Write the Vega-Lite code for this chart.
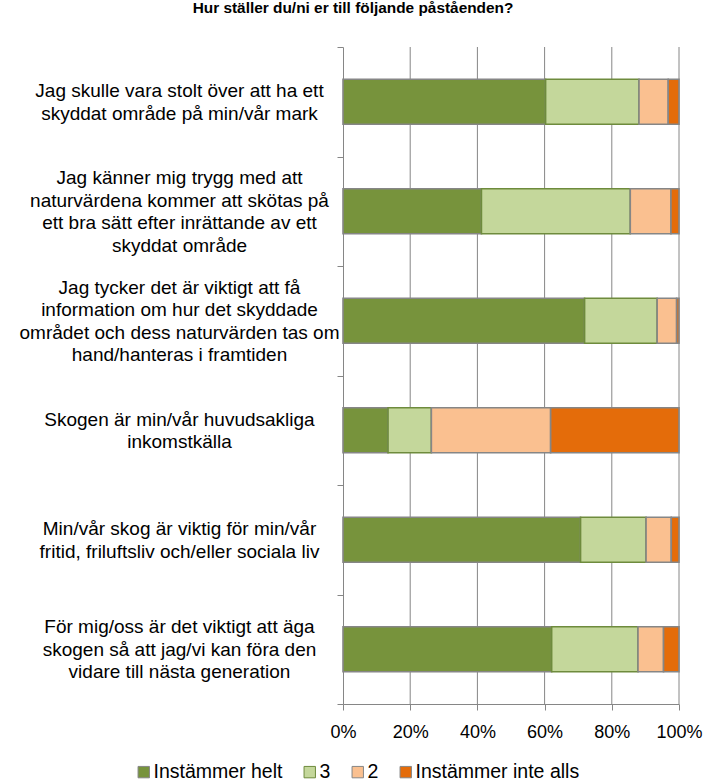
{
  "$schema": "https://vega.github.io/schema/vega-lite/v6.json",
  "width": 336,
  "height": 657,
  "autosize": {"type": "none"},
  "padding": {"left": 343, "top": 47, "right": 27, "bottom": 78},
  "background": "white",
  "title": {
    "text": "Hur ställer du/ni er till följande påståenden?",
    "font": "Liberation Sans",
    "fontSize": 15.4,
    "fontWeight": "bold",
    "color": "#000000",
    "anchor": "middle",
    "dx": -158,
    "offset": 22
  },
  "config": {
    "view": {"stroke": null},
    "font": "Liberation Sans"
  },
  "layer": [
    {
      "data": {"values": [{"g": 0.2}, {"g": 0.4}, {"g": 0.6}, {"g": 0.8}, {"g": 1.0}]},
      "mark": {"type": "rule", "color": "#868686", "strokeWidth": 1},
      "encoding": {
        "x": {"field": "g", "type": "quantitative"}
      }
    },
    {
      "data": {
        "values": [
          {"q": "Jag skulle vara stolt över att ha ett|skyddat område på min/vår mark", "cat": "Instämmer helt", "o": 1, "v": 60.3},
          {"q": "Jag skulle vara stolt över att ha ett|skyddat område på min/vår mark", "cat": "3", "o": 2, "v": 27.8},
          {"q": "Jag skulle vara stolt över att ha ett|skyddat område på min/vår mark", "cat": "2", "o": 3, "v": 8.7},
          {"q": "Jag skulle vara stolt över att ha ett|skyddat område på min/vår mark", "cat": "Instämmer inte alls", "o": 4, "v": 3.2},
          {"q": "Jag känner mig trygg med att|naturvärdena kommer att skötas på|ett bra sätt efter inrättande av ett|skyddat område", "cat": "Instämmer helt", "o": 1, "v": 41.2},
          {"q": "Jag känner mig trygg med att|naturvärdena kommer att skötas på|ett bra sätt efter inrättande av ett|skyddat område", "cat": "3", "o": 2, "v": 44.3},
          {"q": "Jag känner mig trygg med att|naturvärdena kommer att skötas på|ett bra sätt efter inrättande av ett|skyddat område", "cat": "2", "o": 3, "v": 12.1},
          {"q": "Jag känner mig trygg med att|naturvärdena kommer att skötas på|ett bra sätt efter inrättande av ett|skyddat område", "cat": "Instämmer inte alls", "o": 4, "v": 2.4},
          {"q": "Jag tycker det är viktigt att få|information om hur det skyddade|området och dess naturvärden tas om|hand/hanteras i framtiden", "cat": "Instämmer helt", "o": 1, "v": 71.9},
          {"q": "Jag tycker det är viktigt att få|information om hur det skyddade|området och dess naturvärden tas om|hand/hanteras i framtiden", "cat": "3", "o": 2, "v": 21.6},
          {"q": "Jag tycker det är viktigt att få|information om hur det skyddade|området och dess naturvärden tas om|hand/hanteras i framtiden", "cat": "2", "o": 3, "v": 5.8},
          {"q": "Jag tycker det är viktigt att få|information om hur det skyddade|området och dess naturvärden tas om|hand/hanteras i framtiden", "cat": "Instämmer inte alls", "o": 4, "v": 0.7},
          {"q": "Skogen är min/vår huvudsakliga|inkomstkälla", "cat": "Instämmer helt", "o": 1, "v": 13.4},
          {"q": "Skogen är min/vår huvudsakliga|inkomstkälla", "cat": "3", "o": 2, "v": 12.9},
          {"q": "Skogen är min/vår huvudsakliga|inkomstkälla", "cat": "2", "o": 3, "v": 35.5},
          {"q": "Skogen är min/vår huvudsakliga|inkomstkälla", "cat": "Instämmer inte alls", "o": 4, "v": 38.2},
          {"q": "Min/vår skog är viktig för min/vår|fritid, friluftsliv och/eller sociala liv", "cat": "Instämmer helt", "o": 1, "v": 70.7},
          {"q": "Min/vår skog är viktig för min/vår|fritid, friluftsliv och/eller sociala liv", "cat": "3", "o": 2, "v": 19.5},
          {"q": "Min/vår skog är viktig för min/vår|fritid, friluftsliv och/eller sociala liv", "cat": "2", "o": 3, "v": 7.5},
          {"q": "Min/vår skog är viktig för min/vår|fritid, friluftsliv och/eller sociala liv", "cat": "Instämmer inte alls", "o": 4, "v": 2.3},
          {"q": "För mig/oss är det viktigt att äga|skogen så att jag/vi kan föra den|vidare till nästa generation", "cat": "Instämmer helt", "o": 1, "v": 62.1},
          {"q": "För mig/oss är det viktigt att äga|skogen så att jag/vi kan föra den|vidare till nästa generation", "cat": "3", "o": 2, "v": 25.7},
          {"q": "För mig/oss är det viktigt att äga|skogen så att jag/vi kan föra den|vidare till nästa generation", "cat": "2", "o": 3, "v": 7.6},
          {"q": "För mig/oss är det viktigt att äga|skogen så att jag/vi kan föra den|vidare till nästa generation", "cat": "Instämmer inte alls", "o": 4, "v": 4.6}
        ]
      },
      "mark": {"type": "bar", "strokeWidth": 1.6, "height": {"band": 0.41}},
      "encoding": {
        "y": {
          "field": "q",
          "type": "nominal",
          "sort": null,
          "scale": {"paddingInner": 0, "paddingOuter": 0},
          "axis": {
            "title": null,
            "labelExpr": "split(datum.label, '|')",
            "labelAlign": "center",
            "labelBaseline": "middle",
            "labelPadding": 158,
            "labelFontSize": 19,
            "labelColor": "#000000",
            "labelLineHeight": 22.5,
            "labelLimit": 400,
            "labelOffset": {
              "condition": [
                {"test": "length(split(datum.label, '|')) == 4", "value": -33.75},
                {"test": "length(split(datum.label, '|')) == 3", "value": -22.5}
              ],
              "value": -11.25
            },
            "tickBand": "extent",
            "tickColor": "#868686",
            "tickSize": 6,
            "domainColor": "#868686",
            "domainWidth": 1,
            "grid": false
          }
        },
        "x": {
          "field": "v",
          "type": "quantitative",
          "stack": "normalize",
          "scale": {"domain": [0, 1], "nice": false},
          "axis": {
            "title": null,
            "values": [0, 0.2, 0.4, 0.6, 0.8, 1],
            "format": ".0%",
            "labelFontSize": 18,
            "labelColor": "#000000",
            "labelPadding": 13,
            "labelFlush": false,
            "labelOverlap": false,
            "grid": false,
            "tickColor": "#868686",
            "tickSize": 6,
            "domainColor": "#868686"
          }
        },
        "order": {"field": "o", "type": "quantitative"},
        "color": {
          "field": "cat",
          "type": "nominal",
          "scale": {
            "domain": ["Instämmer helt", "3", "2", "Instämmer inte alls"],
            "range": ["#77933C", "#C4D79B", "#FAC090", "#E46C0A"]
          },
          "legend": {
            "title": null,
            "orient": "none",
            "direction": "horizontal",
            "legendX": -209,
            "legendY": 715,
            "symbolType": "square",
            "symbolSize": 130,
            "symbolStrokeColor": "#868686",
            "symbolStrokeWidth": 1,
            "labelFontSize": 19.5,
            "labelColor": "#000000",
            "labelLimit": 300,
            "columnPadding": 17,
            "labelOffset": 0
          }
        },
        "stroke": {
          "field": "cat",
          "type": "nominal",
          "scale": {
            "domain": ["Instämmer helt", "3", "2", "Instämmer inte alls"],
            "range": ["#868686", "#6E8B3D", "#868686", "#868686"]
          },
          "legend": null
        }
      }
    }
  ]
}
